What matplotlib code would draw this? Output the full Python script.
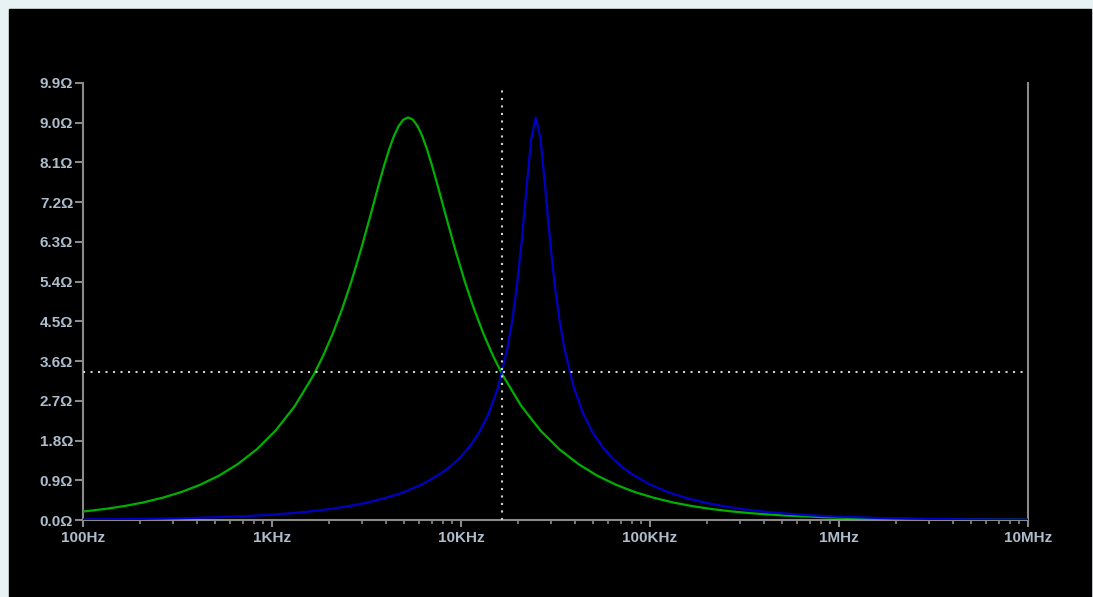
import matplotlib
matplotlib.use('Agg')
import matplotlib.pyplot as plt
from matplotlib.patches import Rectangle
from matplotlib.ticker import FuncFormatter, FixedLocator, LogLocator, NullFormatter

# Green trace: frequency (Hz) and impedance (ohm)
green_freq = [100, 131.8, 166.0, 209.0, 263.0, 331.1, 416.9, 524.8, 660.7, 831.8,
              1047, 1318, 1660, 1862, 2089, 2344, 2630, 2951, 3311, 3508,
              3715, 3936, 4169, 4416, 4677, 4955, 5248, 5559, 5888, 6237,
              6607, 6998, 7413, 7852, 8318, 9333, 10470, 11750,
              13180, 14790, 16600, 20890, 26300, 33110, 41690, 52480, 66070, 83180,
              104700, 131800, 166000, 208900, 263000, 331100, 416900, 524800, 831800, 1318000,
              2089000, 3311000, 5248000, 10000000]
green_z = [0.191, 0.252, 0.317, 0.399, 0.503, 0.633, 0.798, 1.006, 1.270, 1.604,
           2.030, 2.577, 3.285, 3.715, 4.207, 4.768, 5.404, 6.115, 6.887, 7.284,
           7.677, 8.054, 8.400, 8.697, 8.925, 9.070, 9.120, 9.070, 8.925, 8.697,
           8.400, 8.054, 7.677, 7.284, 6.887, 6.115, 5.404, 4.768,
           4.207, 3.715, 3.285, 2.577, 2.030, 1.604, 1.270, 1.006, 0.798, 0.633,
           0.503, 0.399, 0.317, 0.252, 0.200, 0.159, 0.126, 0.100, 0.063, 0.040,
           0.025, 0.016, 0.010, 0.005]

# Blue trace
blue_freq = [100, 157.1, 249, 394.6, 625.5, 787.4, 991.3, 1248, 1571, 1978,
             2490, 3135, 3947, 4969, 6255, 7874, 8835, 9913, 11120, 12480,
             14000, 15710, 17630, 18670, 19780, 20950, 22190, 23510, 24900, 26380,
             27940, 29590, 31350, 33200, 35170, 39460, 44280, 49680, 55750, 62550,
             70180, 78740, 99130, 124800, 157100, 197800, 249000, 313500, 394600, 496900,
             625500, 787400, 991300, 1571000, 2490000, 3947000, 6255000, 10000000]
blue_z = [0.012, 0.019, 0.030, 0.048, 0.076, 0.096, 0.121, 0.153, 0.193, 0.243,
          0.307, 0.389, 0.494, 0.630, 0.812, 1.061, 1.223, 1.421, 1.668, 1.986,
          2.411, 3.008, 3.900, 4.523, 5.316, 6.317, 7.499, 8.619, 9.120, 8.619,
          7.499, 6.317, 5.316, 4.523, 3.900, 3.008, 2.411, 1.986, 1.668, 1.421,
          1.223, 1.061, 0.812, 0.630, 0.494, 0.389, 0.307, 0.243, 0.193, 0.153,
          0.121, 0.096, 0.076, 0.048, 0.030, 0.019, 0.012, 0.008]

# Cursor position
cursor_freq = 16500
cursor_z = 3.35

# Axis ticks
x_ticks = [1e2, 1e3, 1e4, 1e5, 1e6, 1e7]
x_labels = ['100Hz', '1KHz', '10KHz', '100KHz', '1MHz', '10MHz']
y_ticks = [0.0, 0.9, 1.8, 2.7, 3.6, 4.5, 5.4, 6.3, 7.2, 8.1, 9.0, 9.9]

TEXT_COLOR = '#aebdcc'
AXIS_COLOR = '#8a8a8a'

plt.rcParams['font.family'] = ['Liberation Sans', 'DejaVu Sans']

# Create plot
fig = plt.figure(figsize=(10.93, 5.97), dpi=100, facecolor='#e9f2f2')
fig.patches.append(Rectangle((9 / 1093, 0), 1082 / 1093, 588 / 597,
                             transform=fig.transFigure, color='black', zorder=-10))
ax = fig.add_axes([83 / 1093, 77 / 597, 945 / 1093, 437 / 597])
ax.set_facecolor('black')

# Add data
ax.plot(green_freq, green_z, color='#00b000', linewidth=1.6, zorder=3)
ax.plot(blue_freq, blue_z, color='#0000c4', linewidth=1.6, zorder=4)

# Cursor
ax.axvline(cursor_freq, ymin=0, ymax=0.991, color='#d0d0d0', linewidth=1.5,
           linestyle=(0, (1, 2.6)), zorder=5)
ax.axhline(cursor_z, color='#d0d0d0', linewidth=1.5,
           linestyle=(0, (1, 2.6)), zorder=5)

# Axes
ax.set_xscale('log')
ax.set_xlim(1e2, 1e7)
ax.set_ylim(0, 9.9)
ax.xaxis.set_major_locator(FixedLocator(x_ticks))
ax.set_xticklabels(x_labels)
ax.xaxis.set_minor_locator(LogLocator(base=10, subs=range(2, 10), numticks=20))
ax.xaxis.set_minor_formatter(NullFormatter())
ax.yaxis.set_major_locator(FixedLocator(y_ticks))
ax.yaxis.set_major_formatter(FuncFormatter(lambda v, p: '%.1fΩ' % v))

for side in ['left', 'bottom', 'right']:
    ax.spines[side].set_color(AXIS_COLOR)
    ax.spines[side].set_linewidth(1.5)
ax.spines['top'].set_visible(False)

ax.tick_params(axis='y', which='major', length=6, width=1.5, color=AXIS_COLOR,
               labelcolor=TEXT_COLOR, labelsize=11, pad=1)
ax.tick_params(axis='x', which='major', length=5, width=1.5, color=AXIS_COLOR,
               labelcolor=TEXT_COLOR, labelsize=11, pad=3)
ax.tick_params(axis='x', which='minor', length=3, width=1.2, color=AXIS_COLOR)
for lbl in ax.get_xticklabels() + ax.get_yticklabels():
    lbl.set_fontweight('bold')

# Save
plt.savefig('out.png', dpi=100, facecolor=fig.get_facecolor())
plt.close()
